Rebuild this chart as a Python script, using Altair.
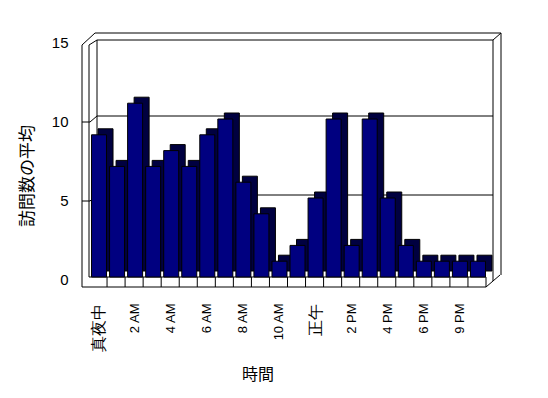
import altair as alt
import pandas as pd

# ---- data ----
hours = ["真夜中", "1 AM", "2 AM", "3 AM", "4 AM", "5 AM", "6 AM", "7 AM", "8 AM", "9 AM",
         "10 AM", "11 AM", "正午", "1 PM", "2 PM", "3 PM", "4 PM", "5 PM", "6 PM", "8 PM",
         "9 PM", "10 PM"]
visits = [9, 7, 11, 7, 8, 7, 9, 10, 6, 4, 1, 2, 5, 10, 2, 10, 5, 2, 1, 1, 1, 1]
shown_labels = hours[::2]
y_ticks = [0, 5, 10, 15]
grid_values = [5, 10]
x_title = "時間"
y_title = "訪問数の平均"

W, H = 397, 237
LATIN = "Liberation Sans"
CJK = "Noto Sans CJK JP"

df = pd.DataFrame({"hour": hours, "visits": visits})
gdf = pd.DataFrame({"visits": grid_values})
one = pd.DataFrame({"k": [0]})

xs = alt.Scale(domain=hours, paddingInner=0, paddingOuter=0)
ys = alt.Scale(domain=[0, 15], nice=False, zero=True)

x_axis = alt.Axis(
    values=shown_labels, labelAngle=270, labelAlign="right", labelBaseline="middle",
    domain=False, ticks=False, tickSize=0, grid=False, labelPadding=26, labelOffset=1,
    labelFont=LATIN, labelColor="black",
    labelFontSize={"condition": {"test": "datum.label == '真夜中' || datum.label == '正午'",
                                 "value": 16}, "value": 13},
    labelOverlap=False, title=None)
y_axis = alt.Axis(
    values=y_ticks, offset=7, domain=False, ticks=False, tickSize=0, grid=False,
    labelPadding=14, labelOffset=2, labelFontSize=15, labelFont=LATIN,
    labelColor="black", title=None)

X = alt.X("hour:N", scale=xs, sort=hours, axis=x_axis)
Y = alt.Y("visits:Q", scale=ys, axis=y_axis)


def seg(x1, y1, x2, y2):
    return alt.Chart(one).mark_rule(color="black", strokeWidth=1).encode(
        x=alt.value(x1), y=alt.value(y1), x2=alt.value(x2), y2=alt.value(y2)
    )


frame = [
    seg(-7, 5, -7, 247),
    seg(0, 5, 0, 237),
    seg(8, 0, 8, 232),
    seg(-7, 5, 6, -7),
    seg(0, 5, 8, 0),
    seg(6, -7, 412, -7),
    seg(8, 0, 404, 0),
    seg(404, 0, 412, -7),
    seg(412, -7, 412, 235),
    seg(404, 0, 404, 241),
    seg(-7, 247, 397, 247),
    seg(0, 237, 397, 237),
    seg(397, 237, 397, 247),
    seg(397, 247, 411, 235),
]

grid_back = alt.Chart(gdf).mark_rule(color="black", yOffset=-3).encode(
    y=Y, x=alt.value(8), x2=alt.value(404)
)
grid_front = alt.Chart(gdf).mark_rule(color="black", yOffset=3).encode(
    y=Y, x=alt.value(-7), x2=alt.value(1)
)
grid_diag = alt.Chart(gdf).mark_rule(color="black", yOffset=3, y2Offset=-3).encode(
    y=Y, y2="visits:Q", x=alt.value(1), x2=alt.value(8)
)

cells = alt.Chart(df.iloc[1:]).mark_rule(color="black").encode(
    x=alt.X("hour:N", scale=xs, sort=hours, axis=x_axis, bandPosition=0),
    y=alt.value(237), y2=alt.value(247),
)

shadow = alt.Chart(df).mark_bar(
    width=15, xOffset=7.5, yOffset=-6, y2Offset=-6,
    color="#000040", stroke="black", strokeWidth=1
).encode(x=X, y=Y)

front = alt.Chart(df).mark_bar(
    width=15, xOffset=1, color="#000080", stroke="black", strokeWidth=1
).encode(x=X, y=Y)

ytitle = alt.Chart(one).mark_text(
    text=y_title, angle=270, font=CJK, fontSize=17, color="black",
    align="center", baseline="middle"
).encode(x=alt.value(-61), y=alt.value(136))

xtitle = alt.Chart(one).mark_text(
    text=x_title, font=CJK, fontSize=16, color="black",
    align="center", baseline="middle"
).encode(x=alt.value(169), y=alt.value(335))

chart = alt.layer(
    *frame, grid_back, grid_front, grid_diag, cells, shadow, front, ytitle, xtitle
).properties(
    width=W, height=H,
    autosize=alt.AutoSizeParams(type="none"),
    padding={"left": 81, "top": 32, "right": 54, "bottom": 113},
    background="white",
).configure_view(stroke=None)

chart.save("out.html", embed_options={"renderer": "svg", "actions": False})
